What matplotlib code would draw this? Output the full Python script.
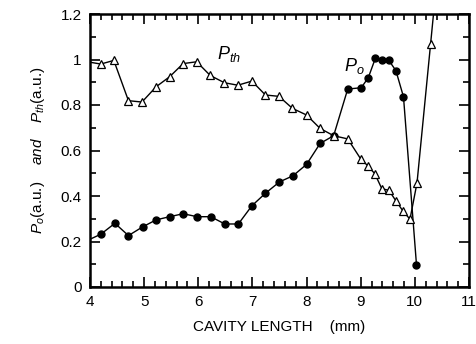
import numpy as np
import matplotlib
matplotlib.use("Agg")
import matplotlib.pyplot as plt
from matplotlib.ticker import MultipleLocator

plt.rcParams["font.family"] = ["Liberation Sans", "DejaVu Sans"]
plt.rcParams["mathtext.fontset"] = "custom"
plt.rcParams["mathtext.it"] = "Liberation Sans:italic"
plt.rcParams["mathtext.rm"] = "Liberation Sans"

# -------- data --------

# output power P_o, filled circles (first point sits on the left axis)
po_len = [4.0, 4.20, 4.46, 4.71, 4.97, 5.22, 5.47, 5.72, 5.98, 6.23, 6.49, 6.74,
          6.99, 7.24, 7.50, 7.75, 8.00, 8.25, 8.50, 8.76, 9.01, 9.14, 9.27,
          9.39, 9.52, 9.65, 9.79, 10.03]
po_val = [0.21, 0.232, 0.28, 0.226, 0.264, 0.295, 0.309, 0.322, 0.309, 0.309,
          0.277, 0.277, 0.357, 0.412, 0.462, 0.489, 0.539, 0.631, 0.665, 0.870,
          0.876, 0.92, 1.005, 0.998, 0.996, 0.951, 0.836, 0.098]

# threshold power P_th, open triangles (first and last run off the frame)
pth_len = [4.0, 4.20, 4.44, 4.71, 4.96, 5.22, 5.47, 5.72, 5.97, 6.22, 6.48,
           6.73, 6.99, 7.24, 7.49, 7.74, 8.00, 8.25, 8.50, 8.76, 9.00, 9.13,
           9.26, 9.39, 9.52, 9.65, 9.78, 9.91, 10.04, 10.29, 10.50]
pth_val = [0.988, 0.98, 0.996, 0.819, 0.813, 0.880, 0.924, 0.982, 0.990, 0.930,
           0.898, 0.887, 0.905, 0.844, 0.838, 0.785, 0.756, 0.697, 0.665, 0.651,
           0.563, 0.533, 0.498, 0.432, 0.425, 0.379, 0.334, 0.298, 0.458, 1.067,
           1.58]

x_ticks = [4, 5, 6, 7, 8, 9, 10, 11]
y_ticks = [0, 0.2, 0.4, 0.6, 0.8, 1.0, 1.2]
y_tick_labels = ["0", "0.2", "0.4", "0.6", "0.8", "1", "1.2"]

# -------- plot --------

fig = plt.figure(figsize=(4.77, 3.44), dpi=100)
ax = fig.add_axes([90 / 477, 1 - 287 / 344, (469 - 90) / 477, (287 - 14) / 344])

# lines first (full), markers only on the visible measured points
ax.plot(po_len, po_val, color="black", lw=1.0, zorder=3)
ax.plot(po_len[1:], po_val[1:], ls="none", marker="o", ms=5,
        mfc="black", mec="black", zorder=3)
ax.plot(pth_len, pth_val, color="black", lw=1.0, zorder=4)
ax.plot(pth_len[1:-1], pth_val[1:-1], ls="none", marker="^", ms=5.5,
        mfc="white", mec="black", mew=0.9, zorder=5)

ax.set_xlim(4, 11)
ax.set_ylim(0, 1.2)
ax.set_xticks(x_ticks)
ax.set_xticklabels([str(t) for t in x_ticks])
ax.set_yticks(y_ticks)
ax.set_yticklabels(y_tick_labels)
ax.xaxis.set_minor_locator(MultipleLocator(0.2))
ax.yaxis.set_minor_locator(MultipleLocator(0.1))
ax.tick_params(which="both", direction="in", top=True, right=True,
               labelsize=11, width=1.2)
ax.tick_params(which="major", length=7, pad=6)
ax.tick_params(which="minor", length=4)
for s in ax.spines.values():
    s.set_linewidth(1.8)

# curve labels
ax.annotate(r"$P_{th}$", xy=(6.35, 1.0), fontsize=13)
ax.annotate(r"$P_o$", xy=(8.7, 0.95), fontsize=13)

ax.set_xlabel("CAVITY LENGTH    (mm)", fontsize=11, labelpad=8)
ax.set_ylabel(r"$P_o$(a.u.)    $and$    $P_{th}$(a.u.)", fontsize=11, labelpad=10)

fig.savefig("out.png", dpi=100)
